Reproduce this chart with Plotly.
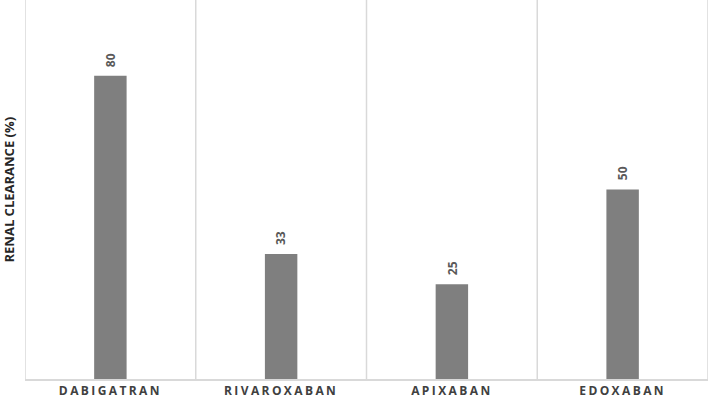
import plotly.graph_objects as go

categories = ["DABIGATRAN", "RIVAROXABAN", "APIXABAN", "EDOXABAN"]
values = [80, 33, 25, 50]
y_title = "RENAL CLEARANCE (%)"

FONT = "Open Sans"
grid_color = "#d9d9d9"

fig = go.Figure()
fig.add_trace(go.Bar(
    x=categories,
    y=values,
    width=0.19,
    marker=dict(color="#7f7f7f", line=dict(width=0)),
    hoverinfo="x+y",
))

# value labels (rotated) above each bar
for c, v in zip(categories, values):
    fig.add_annotation(
        x=c, y=v, xref="x", yref="y", text=str(v), showarrow=False,
        textangle=-90, yanchor="bottom", xanchor="center", yshift=7,
        font=dict(family=FONT, size=12, color="#595959", weight="bold"),
    )

# vertical separators at category boundaries
for i in range(len(categories) + 1):
    fig.add_shape(type="line", xref="x", yref="paper",
                  x0=i - 0.5, x1=i - 0.5, y0=0, y1=1,
                  line=dict(color=grid_color, width=1.5), layer="below")

fig.add_annotation(
    text=y_title, xref="paper", yref="paper", x=0, y=0.5,
    xanchor="center", yanchor="middle", xshift=-17, textangle=-90,
    showarrow=False,
    font=dict(family=FONT, size=13, color="#262626", weight="bold"),
)

fig.update_layout(
    width=709, height=403,
    margin=dict(l=25, r=1, t=0, b=24),
    plot_bgcolor="white", paper_bgcolor="white",
    showlegend=False,
    xaxis=dict(
        range=[-0.5, 3.5],
        showgrid=False, zeroline=False,
        showline=True, linecolor=grid_color, linewidth=1.5,
        ticks="", ticklen=0,
        tickfont=dict(family=FONT, size=12, color="#404040", weight="bold"),
    ),
    yaxis=dict(
        range=[0, 100], showgrid=False, zeroline=False,
        showticklabels=False, showline=False, ticks="",
    ),
)

post = (
    "var s=document.createElement('style');"
    "s.textContent='body{margin:0;} .xtick text{letter-spacing:2.4px;}';"
    "document.head.appendChild(s);"
)
fig.write_html("out.html", post_script=post, config={"displayModeBar": False})
